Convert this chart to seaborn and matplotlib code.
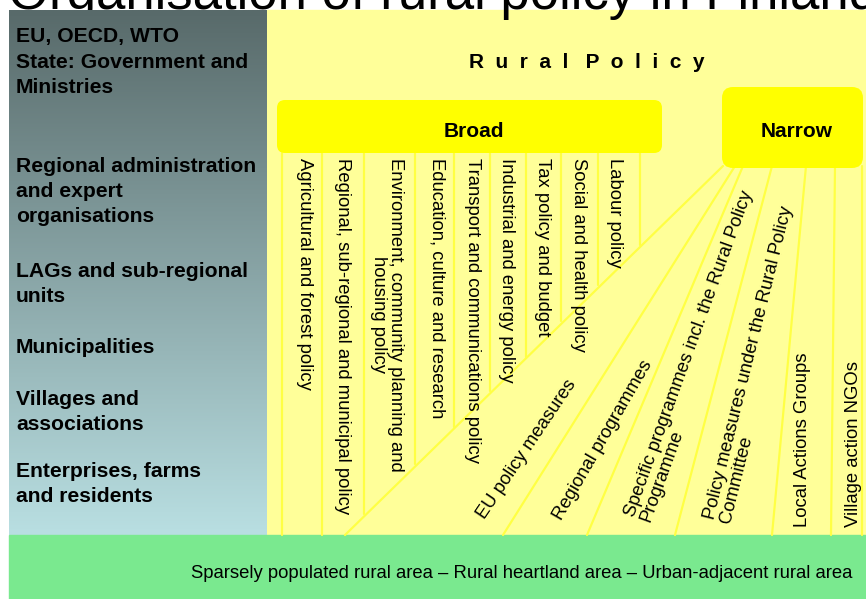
import numpy as np
import pandas as pd
import matplotlib.pyplot as plt
import seaborn as sns
from matplotlib.colors import LinearSegmentedColormap
from matplotlib.patches import FancyBboxPatch, Rectangle

title = "Organisation of rural policy in Finland"
header = "R  u  r  a  l   P  o  l  i  c  y"
area_text = "Sparsely populated rural area \u2013 Rural heartland area \u2013 Urban-adjacent rural area"

# left column, one entry per printed line
level_lines = ["EU, OECD, WTO", "State: Government and", "Ministries",
               "Regional administration", "and expert", "organisations",
               "LAGs and sub-regional", "units", "Municipalities",
               "Villages and", "associations",
               "Enterprises, farms", "and residents"]
level_y = [42, 68, 93, 172, 197, 222, 277, 302, 353, 405, 430, 477, 502]

broad_labels = ["Agricultural and forest policy",
                "Regional, sub-regional and municipal policy",
                "Environment, community planning and\nhousing policy",
                "Education, culture and research",
                "Transport and communications policy",
                "Industrial and energy policy",
                "Tax policy and budget",
                "Social and health policy",
                "Labour policy"]
broad_label_x = [304, 342, 387, 437, 472, 506, 542, 579, 615]
broad_line_x = [282, 322, 364, 415, 454, 490, 526, 561, 598, 640]
broad_line_end = [535, 535, 514, 464, 427, 391, 357, 321, 285, 245]

narrow_labels = ["EU policy measures", "Regional programmes",
                 "Specific programmes incl. the Rural Policy\nProgramme",
                 "Policy measures under the Rural Policy\nCommittee",
                 "Local Actions Groups", "Village action NGOs"]
narrow_angle = [56, 60, 70, 76, 90, 90]
narrow_x = [485, 562, 650, 731, 807, 858]
narrow_y = [520, 521, 523, 524, 527, 527]
fan_top_x = [723, 735, 743, 772, 806, 835, 862]
fan_bottom_x = [345, 503, 587, 675, 772, 831, 862]

sns.set_theme(style="white")
plt.rcParams["font.family"] = ["Liberation Sans", "DejaVu Sans"]
plt.rcParams["text.color"] = "black"

fig = plt.figure(figsize=(8.66, 5.99), dpi=100)
ax = fig.add_axes([0, 0, 1, 1])

# background panels
ax.add_patch(Rectangle((267, 10), 599, 525, color="#ffff99", zorder=0))
ax.text(8, 9, title, fontsize=38, va="baseline", zorder=1)
grad_cmap = LinearSegmentedColormap.from_list("lvl", ["#586a6a", "#b9dfe2"])
ax.imshow(np.linspace(0, 1, 256).reshape(-1, 1), cmap=grad_cmap,
          extent=[9, 267, 535, 10], aspect="auto", zorder=2)
ax.add_patch(Rectangle((9, 535), 857, 64, color="#7ae98f", zorder=2))

# connector lines
rows = []
for i, (x, y_end) in enumerate(zip(broad_line_x, broad_line_end)):
    rows += [("b%d" % i, x, 153), ("b%d" % i, x, y_end)]
for i, (x0, x1) in enumerate(zip(fan_top_x, fan_bottom_x)):
    rows += [("n%d" % i, x0, 166), ("n%d" % i, x1, 535)]
links = pd.DataFrame(rows, columns=["line", "x", "y"])
sns.lineplot(data=links, x="x", y="y", units="line", estimator=None, sort=False,
             color="#ffff44", linewidth=1.6, legend=False, ax=ax, zorder=3)

# boxes
ax.add_patch(FancyBboxPatch((277, 100), 385, 53, boxstyle="round,pad=0,rounding_size=8",
                            facecolor="#ffff00", edgecolor="none", zorder=4))
ax.add_patch(FancyBboxPatch((722, 87), 141, 81, boxstyle="round,pad=0,rounding_size=11",
                            facecolor="#ffff00", edgecolor="none", zorder=4))

# texts
for line, y in zip(level_lines, level_y):
    ax.text(16, y, line, fontsize=15.2, fontweight="bold", va="baseline", zorder=5)
ax.text(587, 68, header, fontsize=15, fontweight="bold", ha="center", va="baseline", zorder=5)
ax.text(474, 137, "Broad", fontsize=15, fontweight="bold", ha="center", va="baseline", zorder=5)
ax.text(797, 137, "Narrow", fontsize=15, fontweight="bold", ha="center", va="baseline", zorder=5)

for label, x in zip(broad_labels, broad_label_x):
    ax.text(x, 158, label, fontsize=13.3, rotation=270, ha="center", va="top",
            linespacing=0.95, zorder=5)

for label, ang, x, y in zip(narrow_labels, narrow_angle, narrow_x, narrow_y):
    ax.text(x, y, label, fontsize=13.3, rotation=ang, rotation_mode="anchor",
            ha="left", va="baseline", linespacing=0.95, zorder=5)

ax.text(852, 578, area_text, fontsize=13.3, ha="right", va="baseline", zorder=5)

ax.set_xlim(0, 866)
ax.set_ylim(599, 0)
ax.axis("off")
fig.savefig("out.png", dpi=100)
